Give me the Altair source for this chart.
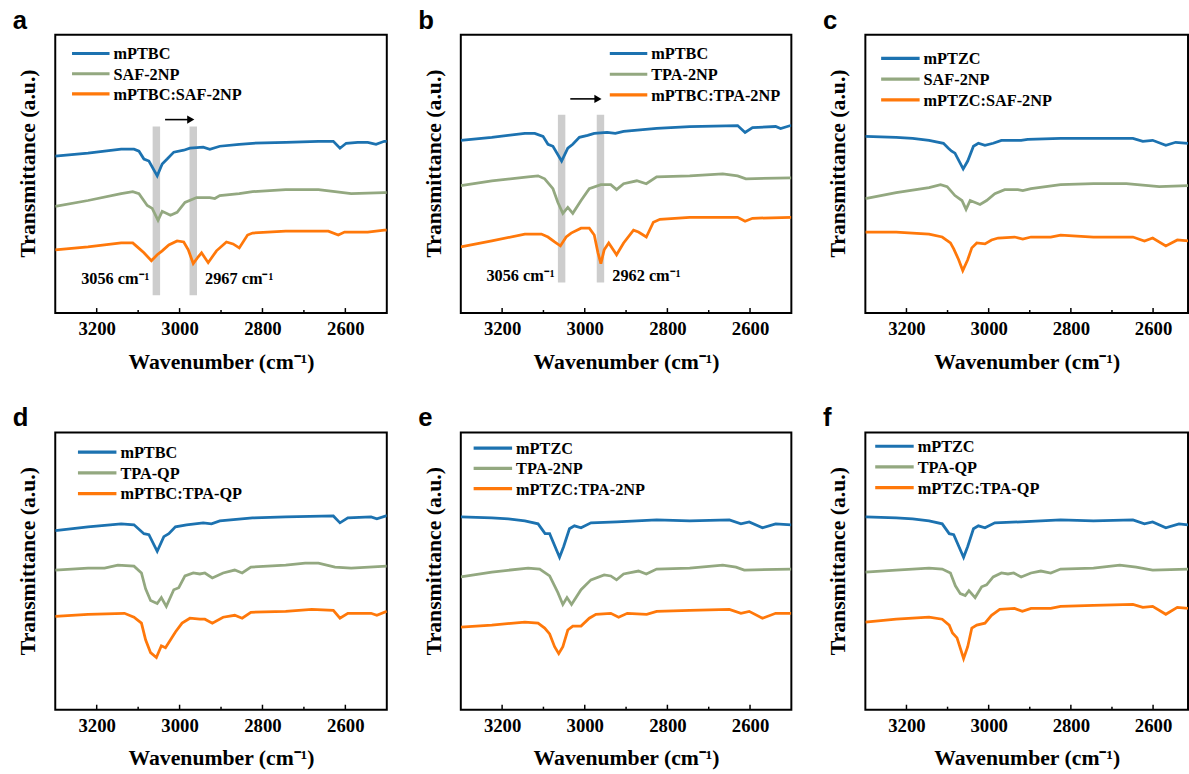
import altair as alt
import pandas as pd

# ---------------- data (wavenumber cm-1, transmittance a.u. with offsets) ----------------
A_NAMES = ["mPTBC", "SAF-2NP", "mPTBC:SAF-2NP"]
A_BLUE = [(3300,159),(3221,162),(3141,166),(3110,166),(3098,164),(3086,156),(3074,154),(3054,139),(3042,151),(3030,156),(3014,163),(2990,165),(2975,167),(2943,168),(2927,166),(2903,169),(2856,171),(2824,172),(2744,173),(2665,174),(2629,174),(2613,167),(2598,172),(2570,173),(2546,173),(2526,171),(2506,174),(2500,174)]
A_GREEN = [(3300,108),(3221,114),(3141,121),(3113,123),(3098,121),(3078,109),(3066,106),(3052,94),(3042,103),(3022,99),(3006,102),(2987,112),(2959,117),(2927,117),(2915,116),(2903,119),(2856,121),(2824,123),(2744,125),(2665,125),(2625,123),(2586,121),(2506,122),(2500,122)]
A_ORANGE = [(3300,64),(3221,67),(3141,71),(3113,71),(3102,67),(3086,61),(3068,53),(3054,59),(3042,63),(3026,69),(3006,73),(2990,72),(2979,64),(2967,50),(2955,57),(2947,61),(2931,51),(2911,63),(2887,72),(2871,70),(2856,66),(2836,79),(2824,81),(2744,83),(2641,83),(2617,79),(2602,82),(2546,82),(2506,84),(2500,84)]

B_NAMES = ["mPTBC", "TPA-2NP", "mPTBC:TPA-2NP"]
B_BLUE = [(3300,175),(3225,178),(3145,182),(3121,182),(3101,179),(3089,171),(3077,169),(3056,154),(3041,167),(3029,171),(3013,178),(2993,180),(2977,182),(2946,183),(2926,182),(2906,184),(2826,187),(2746,189),(2630,190),(2612,183),(2594,188),(2538,189),(2526,187),(2502,190),(2500,190)]
B_GREEN = [(3300,129),(3225,134),(3137,138),(3113,139),(3097,136),(3077,126),(3065,112),(3053,101),(3041,107),(3029,101),(3009,114),(2989,126),(2961,130),(2937,130),(2923,125),(2906,131),(2874,134),(2851,131),(2826,138),(2746,139),(2666,141),(2630,139),(2610,136),(2500,137)]
B_ORANGE = [(3300,67),(3225,73),(3145,80),(3105,80),(3089,77),(3073,72),(3059,68),(3045,77),(3033,81),(3009,86),(2989,86),(2977,79),(2968,61),(2961,50),(2953,64),(2942,71),(2923,59),(2906,71),(2882,84),(2870,82),(2851,77),(2834,92),(2818,95),(2746,97),(2630,97),(2612,93),(2594,96),(2500,97)]

C_NAMES = ["mPTZC", "SAF-2NP", "mPTZC:SAF-2NP"]
C_BLUE = [(3300,179),(3225,178),(3185,177),(3145,175),(3110,172),(3098,167),(3090,164),(3082,162),(3062,146),(3051,154),(3037,169),(3025,172),(3009,170),(2989,172),(2969,175),(2921,175),(2905,176),(2825,177),(2745,177),(2649,177),(2625,174),(2601,175),(2569,170),(2545,173),(2515,172)]
C_GREEN = [(3300,116),(3225,122),(3145,127),(3117,130),(3101,128),(3082,119),(3065,114),(3055,105),(3045,114),(3021,110),(3005,114),(2985,121),(2961,125),(2929,125),(2917,124),(2897,126),(2825,130),(2745,131),(2665,131),(2585,128),(2515,129)]
C_ORANGE = [(3300,82),(3225,82),(3145,80),(3113,77),(3093,71),(3085,65),(3073,54),(3063,43),(3051,54),(3041,66),(3029,71),(3009,70),(2993,74),(2977,76),(2937,77),(2917,75),(2897,77),(2849,77),(2825,79),(2745,77),(2649,77),(2621,73),(2601,76),(2569,68),(2541,74),(2515,73)]

D_NAMES = ["mPTBC", "TPA-QP", "mPTBC:TPA-QP"]
D_BLUE = [(3300,182),(3221,186),(3141,189),(3110,188),(3086,179),(3074,178),(3054,161),(3038,176),(3026,179),(3010,186),(2983,188),(2943,190),(2923,189),(2903,192),(2824,195),(2744,196),(2629,197),(2613,190),(2594,195),(2538,196),(2524,194),(2502,197),(2500,197)]
D_GREEN = [(3300,142),(3221,144),(3181,144),(3149,147),(3110,146),(3092,139),(3082,123),(3070,111),(3054,108),(3044,114),(3032,105),(3014,122),(3002,124),(2987,136),(2967,139),(2951,138),(2939,139),(2921,134),(2895,139),(2867,142),(2849,139),(2828,145),(2744,147),(2697,149),(2665,149),(2625,145),(2586,144),(2500,146)]
D_ORANGE = [(3300,95),(3221,97),(3133,98),(3110,94),(3092,88),(3082,71),(3070,58),(3056,53),(3044,65),(3034,63),(3010,79),(2994,88),(2975,93),(2951,92),(2939,92),(2921,88),(2895,94),(2867,96),(2849,93),(2828,99),(2744,100),(2681,102),(2629,101),(2613,93),(2594,98),(2538,98),(2524,96),(2500,100)]

E_NAMES = ["mPTZC", "TPA-2NP", "mPTZC:TPA-2NP"]
E_BLUE = [(3300,196),(3225,195),(3185,194),(3145,192),(3113,189),(3096,179),(3085,179),(3061,155),(3051,166),(3037,184),(3025,187),(3009,185),(2985,190),(2922,191),(2826,193),(2746,192),(2650,193),(2622,189),(2602,191),(2570,185),(2538,189),(2500,188)]
E_GREEN = [(3300,135),(3225,140),(3137,144),(3109,143),(3085,136),(3065,119),(3053,107),(3043,114),(3032,107),(3009,122),(2985,132),(2953,137),(2937,136),(2923,132),(2906,138),(2870,141),(2851,138),(2826,143),(2746,144),(2666,147),(2634,145),(2614,142),(2500,143)]
E_ORANGE = [(3300,84),(3225,86),(3145,89),(3113,88),(3097,83),(3085,77),(3073,64),(3063,57),(3053,64),(3041,81),(3029,85),(3009,85),(2989,93),(2973,97),(2937,98),(2918,94),(2897,98),(2850,97),(2826,100),(2746,101),(2650,102),(2622,98),(2602,100),(2570,93),(2538,98),(2500,98)]

F_NAMES = ["mPTZC", "TPA-QP", "mPTZC:TPA-QP"]
F_BLUE = [(3300,196),(3225,195),(3185,194),(3145,192),(3113,189),(3096,179),(3085,178),(3061,155),(3051,166),(3037,184),(3025,187),(3009,185),(2985,190),(2921,191),(2825,193),(2745,192),(2649,193),(2621,189),(2601,191),(2569,185),(2537,189),(2515,188)]
F_GREEN = [(3300,140),(3225,142),(3145,144),(3113,143),(3093,139),(3081,126),(3069,118),(3057,116),(3048,121),(3033,114),(3017,125),(3005,127),(2989,135),(2969,139),(2953,138),(2939,139),(2921,135),(2897,139),(2873,141),(2849,139),(2825,143),(2745,144),(2681,147),(2641,145),(2601,142),(2515,143)]
F_ORANGE = [(3300,89),(3225,92),(3145,94),(3113,92),(3096,86),(3088,78),(3077,73),(3061,52),(3051,64),(3041,83),(3029,86),(3009,88),(2993,96),(2973,102),(2937,103),(2918,100),(2897,103),(2849,103),(2825,105),(2745,106),(2649,107),(2625,104),(2601,105),(2569,97),(2541,104),(2515,103)]

# highlighted bands and their labels (panels a and b)
A_BANDS = [3056, 2967]
A_BAND_LABELS = ["3056 cm⁻¹", "2967 cm⁻¹"]
B_BANDS = [3056, 2962]
B_BAND_LABELS = ["3056 cm⁻¹", "2962 cm⁻¹"]

MAJOR_TICKS = [3200, 3000, 2800, 2600]
MINOR_TICKS = [3100, 2900, 2700]

COLORS = ["#1c72b0", "#93a880", "#ff780a"]
SERIF = "Liberation Serif"
SANS = "Liberation Sans"
YMAX = 282


def panel(letter, names, curves, width, height, xmin, legend, bands=None):
    xs = alt.Scale(domain=[xmin, 3300], reverse=True, nice=False, zero=False)
    ys = alt.Scale(domain=[0, YMAX], nice=False, zero=False)
    xaxis = alt.Axis(values=MAJOR_TICKS, format="d", title="Wavenumber (cm⁻¹)",
                     labels=True, ticks=False, domain=False, grid=False)
    yaxis = alt.Axis(title="Transmittance (a.u.)", labels=False, ticks=False,
                     domain=False, grid=False, minExtent=0, maxExtent=0, titleY=130)

    def X(field):
        return alt.X(field, type="quantitative", scale=xs, axis=xaxis)

    def Y(field):
        return alt.Y(field, type="quantitative", scale=ys, axis=yaxis)

    rows = []
    for i, (name, pts) in enumerate(zip(names, curves)):
        for wn, t in pts:
            rows.append({"series": name, "order": i, "wn": wn, "t": t})
    df = pd.DataFrame(rows)

    layers = []
    if bands is not None:
        wns, labels, ybot, ytop, arrow_y, lab_y = bands
        bdf = pd.DataFrame({"wn": wns, "label": labels})
        bdf["lo"] = bdf["wn"] - 9
        bdf["hi"] = bdf["wn"] + 9
        bdf["y0"] = ybot
        bdf["y1"] = ytop
        bdf["ly"] = lab_y
        layers.append(alt.Chart(bdf).mark_rect(color="#cdcdcd").encode(
            x=X("lo"), x2="hi", y=Y("y0"), y2="y1"))
        layers.append(alt.Chart(bdf.iloc[[0]]).mark_text(
            font=SERIF, fontWeight="bold", fontSize=16.5, align="right", baseline="middle", dx=-7, color="black"
        ).encode(x=X("wn"), y=Y("ly"), text="label:N"))
        layers.append(alt.Chart(bdf.iloc[[1]]).mark_text(
            font=SERIF, fontWeight="bold", fontSize=16.5, align="left", baseline="middle", dx=12, color="black"
        ).encode(x=X("wn"), y=Y("ly"), text="label:N"))
        adf = pd.DataFrame({"x0": [wns[0] - 21], "x1": [wns[1] + 6], "y": [arrow_y]})
        layers.append(alt.Chart(adf).mark_rule(color="black", strokeWidth=1.6).encode(
            x=X("x0"), x2="x1", y=Y("y")))
        layers.append(alt.Chart(adf).mark_point(shape="triangle-right", filled=True, size=70,
                                                color="black", opacity=1).encode(
            x=X("x1"), y=Y("y")))

    layers.append(alt.Chart(df).mark_line(strokeWidth=2.8, clip=True).encode(
        x=X("wn"), y=Y("t"),
        color=alt.Color("series:N", scale=alt.Scale(domain=names, range=COLORS), legend=None),
        order="order:Q"))

    # inward ticks
    layers.append(alt.Chart(pd.DataFrame({"wn": MAJOR_TICKS})).mark_rule(color="black", strokeWidth=1.5).encode(
        x=X("wn"), y=alt.value(height), y2=alt.value(height - 5)))
    layers.append(alt.Chart(pd.DataFrame({"wn": MINOR_TICKS})).mark_rule(color="black", strokeWidth=1.5).encode(
        x=X("wn"), y=alt.value(height), y2=alt.value(height - 3)))

    # legend (manual, inside plot)
    lx0, lx1, ly0, ldy, ltx = legend
    for i, (name, col) in enumerate(zip(names, COLORS)):
        one = pd.DataFrame({"name": [name]})
        yy = ly0 + i * ldy
        layers.append(alt.Chart(one).mark_rule(color=col, strokeWidth=3.2).encode(
            x=alt.value(lx0), x2=alt.value(lx1), y=alt.value(yy)))
        layers.append(alt.Chart(one).mark_text(font=SERIF, fontWeight="bold", fontSize=16.5,
                                               align="left", baseline="middle", color="black").encode(
            x=alt.value(ltx), y=alt.value(yy + 1), text="name:N"))

    return alt.layer(*layers).properties(
        width=width, height=height,
        title=alt.TitleParams(letter, anchor="start", font=SANS, fontSize=26, fontWeight="bold",
                              offset=1, dx=-4, color="black"))


a = panel("a", A_NAMES, [A_BLUE, A_GREEN, A_ORANGE], 336, 282, 2500, (17, 55, 19, 20.5, 59),
          bands=(A_BANDS, A_BAND_LABELS, 18, 189, 196, 34))
b = panel("b", B_NAMES, [B_BLUE, B_GREEN, B_ORANGE], 335, 282, 2500, (151, 189, 19, 21, 193),
          bands=(B_BANDS, B_BAND_LABELS, 31, 201, 217, 37))
c = panel("c", C_NAMES, [C_BLUE, C_GREEN, C_ORANGE], 327, 282, 2515, (16, 55, 24, 21, 59))
d = panel("d", D_NAMES, [D_BLUE, D_GREEN, D_ORANGE], 336, 281, 2500, (23, 62, 20, 21, 66))
e = panel("e", E_NAMES, [E_BLUE, E_GREEN, E_ORANGE], 335, 281, 2500, (13, 52, 16, 20.5, 56))
f = panel("f", F_NAMES, [F_BLUE, F_GREEN, F_ORANGE], 327, 281, 2515, (10, 49, 14, 21, 53))

row1 = alt.hconcat(a, b, c, spacing=30).resolve_scale(color="independent", x="independent", y="independent")
row2 = alt.hconcat(d, e, f, spacing=30).resolve_scale(color="independent", x="independent", y="independent")

chart = alt.vconcat(row1, row2, spacing=32).resolve_scale(
    color="independent", x="independent", y="independent"
).properties(
    padding={"left": 12, "top": 2, "right": 0, "bottom": 0}
).configure(background="white").configure_view(
    stroke="black", strokeWidth=2
).configure_axis(
    labelFont=SERIF, labelFontWeight="bold", labelFontSize=19, labelColor="black",
    titleFont=SERIF, titleFontWeight="bold", titleFontSize=22, titleColor="black"
).configure_axisX(labelPadding=7, titlePadding=13, labelFlush=False
).configure_axisY(titlePadding=16)

chart.save("out.html", embed_options={"renderer": "svg", "actions": False})
